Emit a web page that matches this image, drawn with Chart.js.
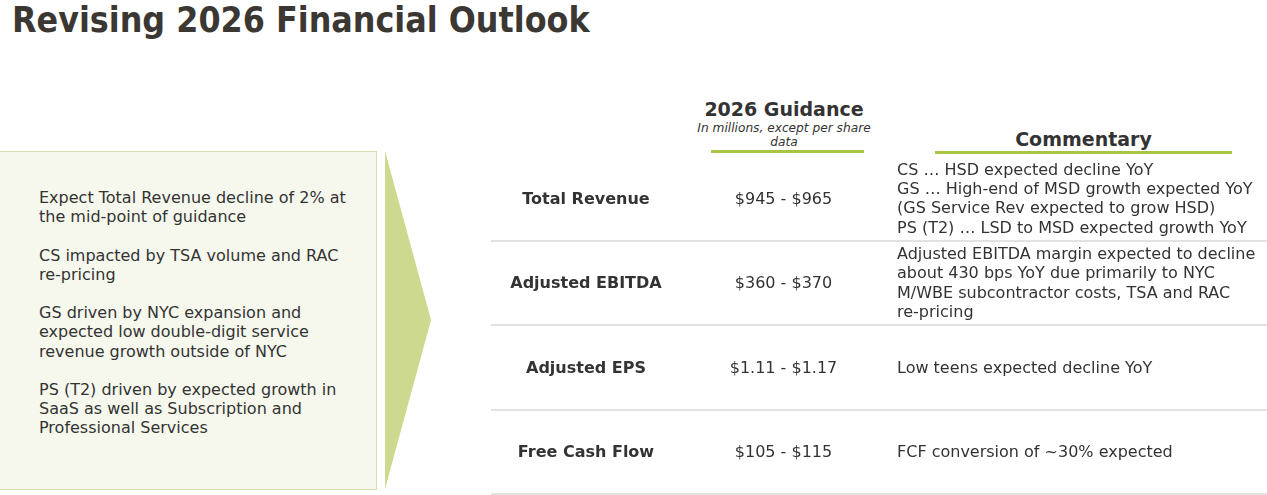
<!DOCTYPE html>
<html>
<head>
<meta charset="utf-8">
<script src="https://cdn.jsdelivr.net/npm/chart.js@4.4.1/dist/chart.umd.min.js"></script>
<style>
  html, body { margin: 0; padding: 0; background: #fff; }
  body { width: 1267px; height: 495px; position: relative; overflow: hidden;
         font-family: "DejaVu Sans", Verdana, sans-serif; color: #333; }
  .abs { position: absolute; }
  #title { left: 12px; top: 0px; font-size: 35px; font-weight: bold; color: #3b3733; white-space: nowrap;
           transform: scaleX(0.91); transform-origin: 0 0; }
  #leftBox { left: -2px; top: 151px; width: 377px; height: 337px; background: #f6f8ee; border: 1px solid #d6e1ad; }
  #leftText { left: 39px; top: 188px; width: 314px; font-size: 16px; line-height: 19.2px; }
  #leftText p { margin: 0 0 19.2px 0; }
  #chevron { left: 385px; top: 151px; width: 46px; height: 338px; background: #cdd98e;
             clip-path: polygon(0 0, 100% 50%, 0 100%); }
  #guidHead { left: 684px; top: 97px; width: 200px; text-align: center; }
  #guidHead .h { font-size: 19px; font-weight: bold; line-height: 24px; }
  #guidHead .s { font-size: 12.2px; font-style: italic; line-height: 14px; }
  #guidLine { left: 711px; top: 150px; width: 153px; height: 3px; background: #a8c443; }
  #commHead { left: 935px; top: 127px; width: 297px; text-align: center; font-size: 19px; font-weight: bold; line-height: 24px; }
  #commLine { left: 935px; top: 151px; width: 297px; height: 3px; background: #a8c443; }
  #tableWrap { left: 491px; top: 155px; width: 776px; height: 340px; }
  #rows { left: 491px; top: 155px; width: 776px; height: 340px; }
  .row { position: absolute; left: 0; width: 776px; display: flex; align-items: center; }
  .lab { width: 190px; text-align: center; font-weight: bold; font-size: 16px; }
  .gv { width: 205px; text-align: center; font-size: 16px; }
  .cm { margin-left: 11px; font-size: 16px; line-height: 19.3px; white-space: nowrap; }
</style>
</head>
<body>
<div id="title" class="abs">Revising 2026 Financial Outlook</div>

<div id="leftBox" class="abs"></div>
<div id="leftText" class="abs"></div>
<div id="chevron" class="abs"></div>

<div id="guidHead" class="abs">
  <div class="h">2026 Guidance</div>
  <div class="s">In millions, except per share<br>data</div>
</div>
<div id="guidLine" class="abs"></div>
<div id="commHead" class="abs">Commentary</div>
<div id="commLine" class="abs"></div>

<div id="tableWrap" class="abs"><canvas id="grid"></canvas></div>
<div id="rows" class="abs"></div>

<script>
// 2026 guidance data
const metrics = ['Total Revenue', 'Adjusted EBITDA', 'Adjusted EPS', 'Free Cash Flow'];
const guidanceLow = [945, 360, 1.11, 105];
const guidanceHigh = [965, 370, 1.17, 115];
const commentary = [
    ['CS … HSD expected decline YoY',
     'GS … High-end of MSD growth expected YoY',
     '(GS Service Rev expected to grow HSD)',
     'PS (T2) … LSD to MSD expected growth YoY'],
    ['Adjusted EBITDA margin expected to decline',
     'about 430 bps YoY due primarily to NYC',
     'M/WBE subcontractor costs, TSA and RAC',
     're-pricing'],
    ['Low teens expected decline YoY'],
    ['FCF conversion of ~30% expected']
];
const highlights = [
    'Expect Total Revenue decline of 2% at the mid-point of guidance',
    'CS impacted by TSA volume and RAC re-pricing',
    'GS driven by NYC expansion and expected low double-digit service revenue growth outside of NYC',
    'PS (T2) driven by expected growth in SaaS as well as Subscription and Professional Services'
];

function fmtMoney(v) {
    return '$' + (Number.isInteger(v) ? v : v.toFixed(2));
}

const leftText = document.getElementById('leftText');
highlights.forEach(function(h) {
    const p = document.createElement('p');
    p.textContent = h;
    leftText.appendChild(p);
});

// 表の罫線は Chart.js のカテゴリ軸グリッドで描く
let gridChart = null;

function initGrid() {
    const ctx = document.getElementById('grid').getContext('2d');
    gridChart = new Chart(ctx, {
        type: 'bar',
        data: {
            labels: metrics,
            datasets: [{
                label: '2026 Guidance',
                data: metrics.map(function(m, i) { return [guidanceLow[i], guidanceHigh[i]]; }),
                backgroundColor: 'rgba(0,0,0,0)',
                borderWidth: 0
            }]
        },
        options: {
            indexAxis: 'y',
            responsive: true,
            maintainAspectRatio: false,
            animation: false,
            layout: { padding: { top: 1, bottom: 1, left: 0, right: 0 } },
            plugins: {
                legend: { display: false },
                tooltip: { enabled: false }
            },
            scales: {
                x: { display: false },
                y: {
                    type: 'category',
                    offset: true,
                    border: { display: false },
                    ticks: { display: false },
                    grid: {
                        offset: true,
                        drawTicks: false,
                        lineWidth: 2,
                        color: function(c) {
                            return c.index === 0 ? 'rgba(0,0,0,0)' : '#e2e2e2';
                        }
                    }
                }
            }
        }
    });
}

function buildRows() {
    const rows = document.getElementById('rows');
    const yScale = gridChart.scales.y;
    metrics.forEach(function(m, i) {
        const top = yScale.getPixelForValue(i) - 42;
        const r = document.createElement('div');
        r.className = 'row';
        r.style.top = top + 'px';
        r.style.height = '84px';
        const lab = document.createElement('div');
        lab.className = 'lab';
        lab.textContent = m;
        const gv = document.createElement('div');
        gv.className = 'gv';
        gv.textContent = fmtMoney(guidanceLow[i]) + ' - ' + fmtMoney(guidanceHigh[i]);
        const cm = document.createElement('div');
        cm.className = 'cm';
        cm.innerHTML = commentary[i].join('<br>');
        r.appendChild(lab);
        r.appendChild(gv);
        r.appendChild(cm);
        rows.appendChild(r);
    });
}

initGrid();
buildRows();
</script>
</body>
</html>
